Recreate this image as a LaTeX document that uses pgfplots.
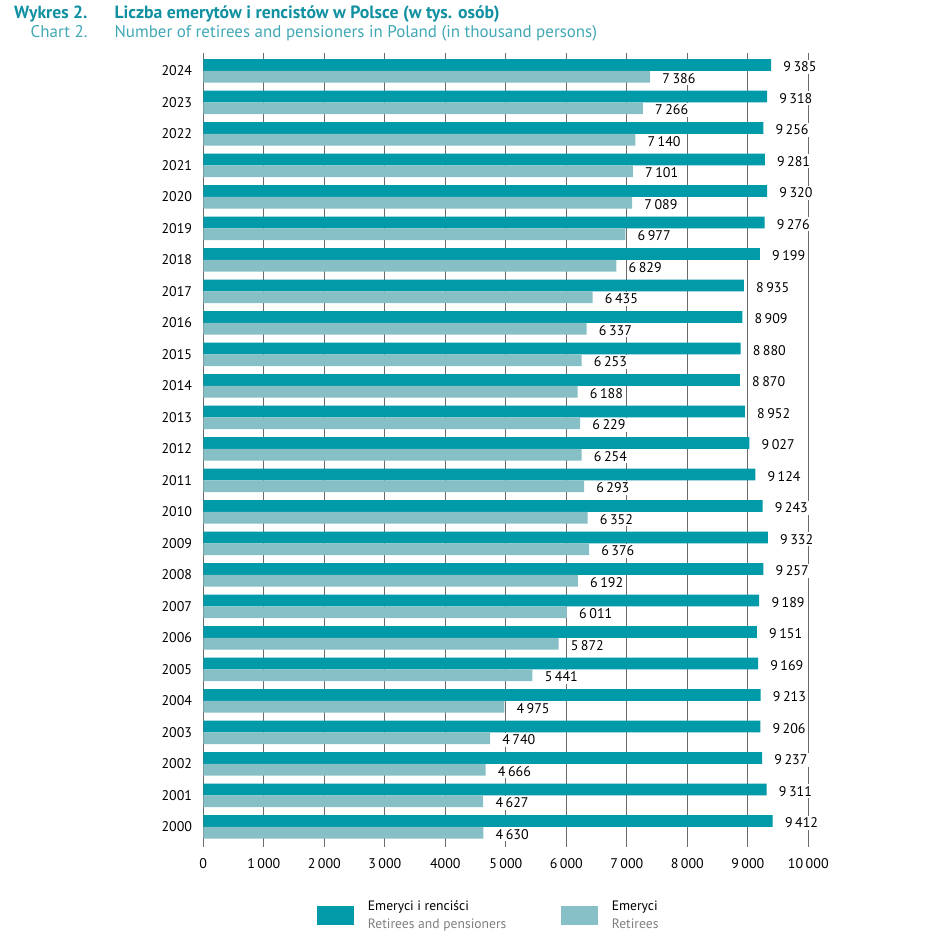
\documentclass[border=0pt]{standalone}
\usepackage{fontspec}
\setmainfont{PT Sans}
\usepackage{pgfplots}
\usepackage{pgfplotstable}
\pgfplotsset{compat=1.18}
\definecolor{dark}{HTML}{009AA8}
\definecolor{light}{HTML}{86C0C6}
\definecolor{ttl}{HTML}{1090A0}
\definecolor{ttltwo}{HTML}{40A8B5}
\definecolor{gridc}{HTML}{6A6A6A}
\definecolor{engc}{HTML}{7F7F7F}
\newcommand{\px}[2]{({(#1)*0.75pt},{-(#2)*0.75pt})}
\pgfplotsset{swatch legend/.style={legend image code/.code={\fill[##1] (0pt,-10.5pt) rectangle (27.75pt,3.5pt);}}}

\pgfplotstableread{
y tot ret
0 9412 4630
1 9311 4627
2 9237 4666
3 9206 4740
4 9213 4975
5 9169 5441
6 9151 5872
7 9189 6011
8 9257 6192
9 9332 6376
10 9243 6352
11 9124 6293
12 9027 6254
13 8952 6229
14 8870 6188
15 8880 6253
16 8909 6337
17 8935 6435
18 9199 6829
19 9276 6977
20 9320 7089
21 9281 7101
22 9256 7140
23 9318 7266
24 9385 7386
}\data

\begin{document}
\begin{tikzpicture}
\path[use as bounding box] \px{0}{0} rectangle \px{924}{952};
\node[anchor=base east, font=\fontsize{13.2}{14}\selectfont\bfseries, text=ttl, inner sep=0pt] at \px{87.7}{18.3} {Wykres 2.};
\node[anchor=base west, font=\fontsize{13.3}{14}\selectfont\bfseries, text=ttl, inner sep=0pt] at \px{114.3}{18.3} {Liczba emerytów i rencistów w Polsce (w tys. osób)};
\node[anchor=base east, font=\fontsize{12.7}{14}\selectfont, text=ttltwo, inner sep=0pt] at \px{87.7}{37.7} {Chart 2.};
\node[anchor=base west, font=\fontsize{12.7}{14}\selectfont, text=ttltwo, inner sep=0pt] at \px{114.3}{37.7} {Number of retirees and pensioners in Poland (in thousand persons)};
\begin{axis}[
  at={(152.475pt,-635.025pt)}, anchor=south west,
  scale only axis, width=453.75pt, height=595.05pt,
  xmin=0, xmax=10000, ymin=-0.63, ymax=24.56,
  axis line style={draw=none},
  major tick length=0pt,
  scaled x ticks=false,
  xmajorgrids, grid style={gridc, line width=0.8pt},
  xtick={0,1000,2000,3000,4000,5000,6000,7000,8000,9000,10000},
  xticklabels={0,1\hspace{0.18em}000,2\hspace{0.18em}000,3\hspace{0.18em}000,4000,5\hspace{0.18em}000,6\hspace{0.18em}000,7\hspace{0.18em}000,8\hspace{0.18em}000,9\hspace{0.18em}000,10\hspace{0.18em}000},
  ytick={0,...,24},
  yticklabels={2000,2001,2002,2003,2004,2005,2006,2007,2008,2009,2010,2011,2012,2013,2014,2015,2016,2017,2018,2019,2020,2021,2022,2023,2024},
  tick label style={font=\fontsize{10.5}{12}\selectfont},
  xticklabel style={anchor=north, inner sep=0pt, yshift=-8.8pt},
  yticklabel style={anchor=east, inner sep=0pt, xshift=-8.25pt},
  clip=false,
  /pgf/number format/.cd, 1000 sep={\hspace{0.18em}}, assume math mode=true, /pgfplots/.cd,
  point meta=x,
  nodes near coords,
  nodes near coords style={anchor=west, xshift=7.5pt, fill=white, inner sep=1.5pt, font=\fontsize{10.5}{12}\selectfont, text=black},
  legend style={at={(0.1874,-0.0685)}, anchor=north west, draw=none, fill=none, inner sep=0pt, outer sep=0pt,
    legend columns=2, font=\fontsize{10.2}{13.2}\selectfont,
    nodes={inner sep=0pt, anchor=base west},
    /tikz/every odd column/.append style={column sep=10.7pt}},
]
\addplot[xbar, bar width=0.3715, bar shift=0.186, fill=dark, draw=none, swatch legend,
  nodes near coords style={yshift=3.15pt}] table[x=tot, y=y] {\data};
\addlegendentry{\parbox[t]{144.5pt}{Emeryci i renciści\\\textcolor{engc}{Retirees and pensioners}}}
\addplot[xbar, bar width=0.3715, bar shift=-0.186, fill=light, draw=none, swatch legend,
  nodes near coords style={yshift=-5.6pt}] table[x=ret, y=y] {\data};
\addlegendentry{\parbox[t]{144.5pt}{Emeryci\\\textcolor{engc}{Retirees}}}
\end{axis}
\end{tikzpicture}
\end{document}
